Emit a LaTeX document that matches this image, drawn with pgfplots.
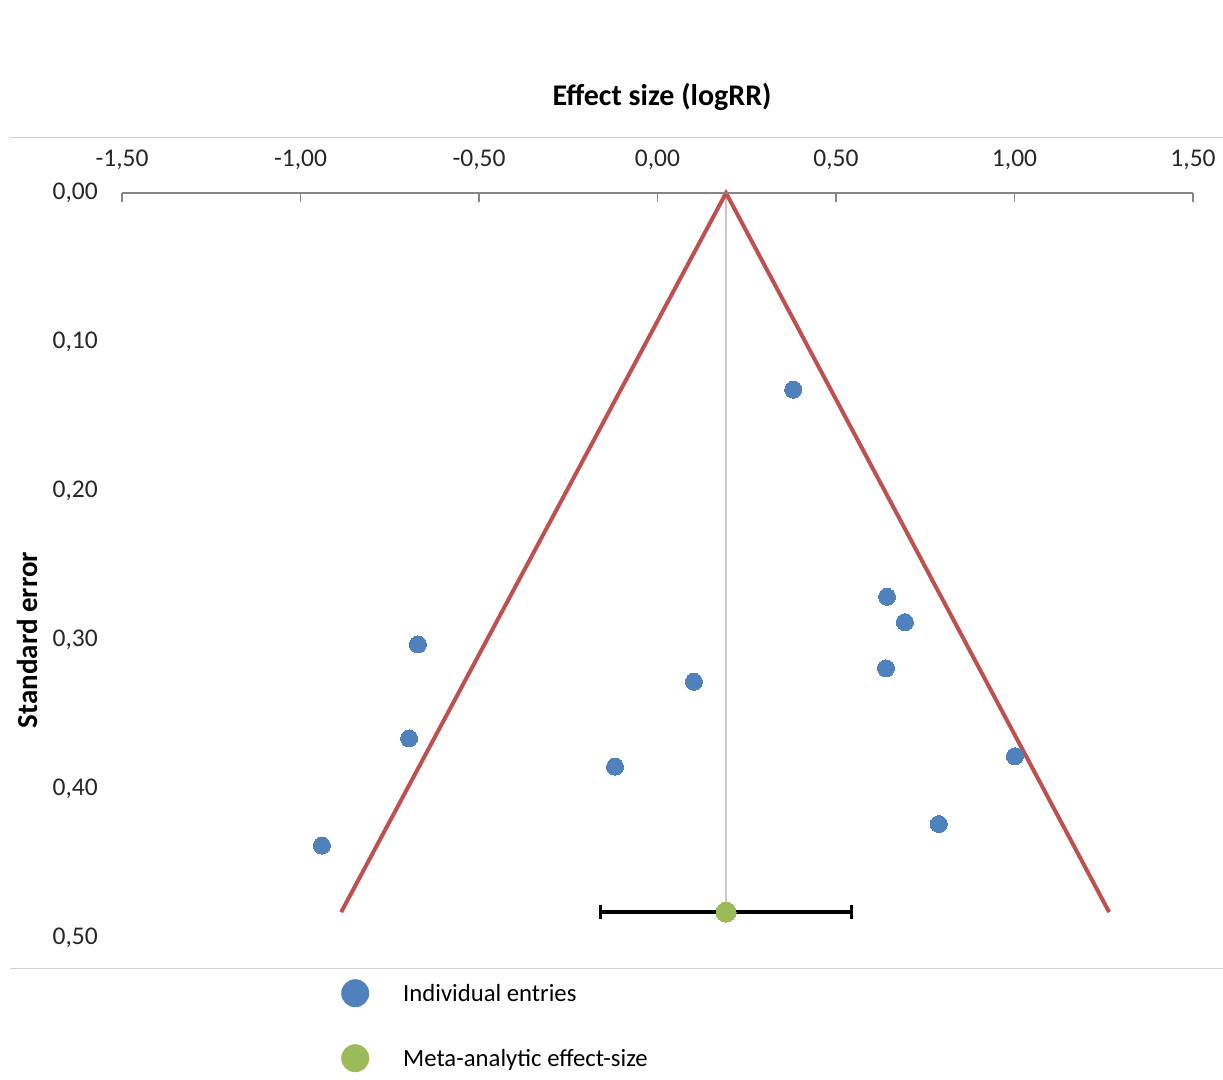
\documentclass[border=0pt]{standalone}
\usepackage{fontspec}
\setmainfont{Carlito}
\usepackage{pgfplots}
\pgfplotsset{compat=1.18}
\definecolor{mblue}{HTML}{4F81BD}
\definecolor{mgreen}{HTML}{9BBB59}
\definecolor{mred}{HTML}{C0504D}
\definecolor{axgray}{HTML}{868686}
\definecolor{lgray}{HTML}{D0D0D0}
\definecolor{vgray}{HTML}{C8C8C8}
\begin{document}
\begin{tikzpicture}
\begin{axis}[
  scale only axis, width=1071pt, height=745pt,
  xmin=-1.5, xmax=1.5, ymin=0, ymax=0.5, y dir=reverse,
  clip=false,
  axis line style={draw=none},
  xtick={-1.5,-1,-0.5,0,0.5,1,1.5},
  ytick={0,0.1,0.2,0.3,0.4,0.5},
  xtick pos=upper, xticklabel pos=upper,
  tick align=inside,
  major tick length=9pt,
  xtick style={axgray, line width=1.5pt},
  ytick style={draw=none},
  /pgf/number format/.cd, fixed, fixed zerofill, precision=2, use comma, assume math mode=true,
  /pgfplots/.cd,
  ticklabel style={font=\fontsize{25.5}{30}\selectfont, text=black!85},
  xticklabel style={anchor=base, inner sep=0pt, yshift=26pt},
  yticklabel style={anchor=east, inner sep=0pt, xshift=-24pt},
  legend style={at={(axis description cs:0.2045,0)}, anchor=north west, yshift=-41pt, draw=none, fill=none, inner sep=0pt, row sep=37pt, font=\fontsize{24.7}{29}\selectfont, nodes={inner sep=0pt, anchor=west}},
  legend cell align=left,
]
\addplot[vgray, line width=2pt, forget plot] coordinates {(0.192,0) (0.192,0.4826)};
\addplot[mred, line width=4pt, forget plot] coordinates {(-0.886,0.4826) (0.192,0) (1.265,0.4826)};
\addplot[mblue, only marks, mark=*, mark size=8.5pt, mark options={draw=mblue, fill=mblue, line width=0pt},
  legend image code/.code={\path[draw=none, fill=none] (0pt,-14pt) rectangle (62pt,14pt); \fill[mblue, draw=none] (14pt,0pt) circle (14pt);}]
  coordinates {
  (0.380,0.132) (0.643,0.271) (0.693,0.288) (0.640,0.319)
  (-0.671,0.303) (-0.696,0.366) (-0.940,0.438) (-0.119,0.385)
  (0.102,0.328) (1.001,0.378) (0.788,0.4235)
  };
\addlegendentry{Individual entries}
\addplot[mgreen, only marks, mark=*, mark size=10pt, mark options={draw=mgreen, fill=mgreen, line width=0pt},
  error bars/.cd, x dir=both, x explicit,
  error bar style={black, line width=3.5pt},
  error mark options={black, rotate=90, mark size=7pt, line width=3pt},
  /pgfplots/.cd,
  legend image code/.code={\path[draw=none, fill=none] (0pt,-14pt) rectangle (62pt,14pt); \fill[mgreen, draw=none] (14pt,0pt) circle (14pt);}]
  coordinates {(0.192,0.4826) +- (0.352,0)};
\addlegendentry{Meta-analytic effect-size}
\end{axis}
\draw[axgray, line width=1.5pt] (current axis.north west) -- (current axis.north east);
\draw[lgray, line width=1pt] ([xshift=-112pt, yshift=55pt]current axis.north west) -- ([xshift=30pt, yshift=55pt]current axis.north east);
\draw[lgray, line width=1pt] ([xshift=-112pt, yshift=-30pt]current axis.south west) -- ([xshift=30pt, yshift=-30pt]current axis.south east);
\node[font=\fontsize{30}{34}\selectfont\bfseries] at ([xshift=540pt, yshift=96pt]current axis.north west) {Effect size (logRR)};
\node[font=\fontsize{29}{33}\selectfont\bfseries, rotate=90] at ([xshift=-95pt, yshift=-447pt]current axis.north west) {Standard error};
\pgfresetboundingbox
\useasboundingbox ([xshift=-122pt, yshift=-141pt]current axis.south west) rectangle ([xshift=30pt, yshift=193pt]current axis.north east);
\end{tikzpicture}
\end{document}
